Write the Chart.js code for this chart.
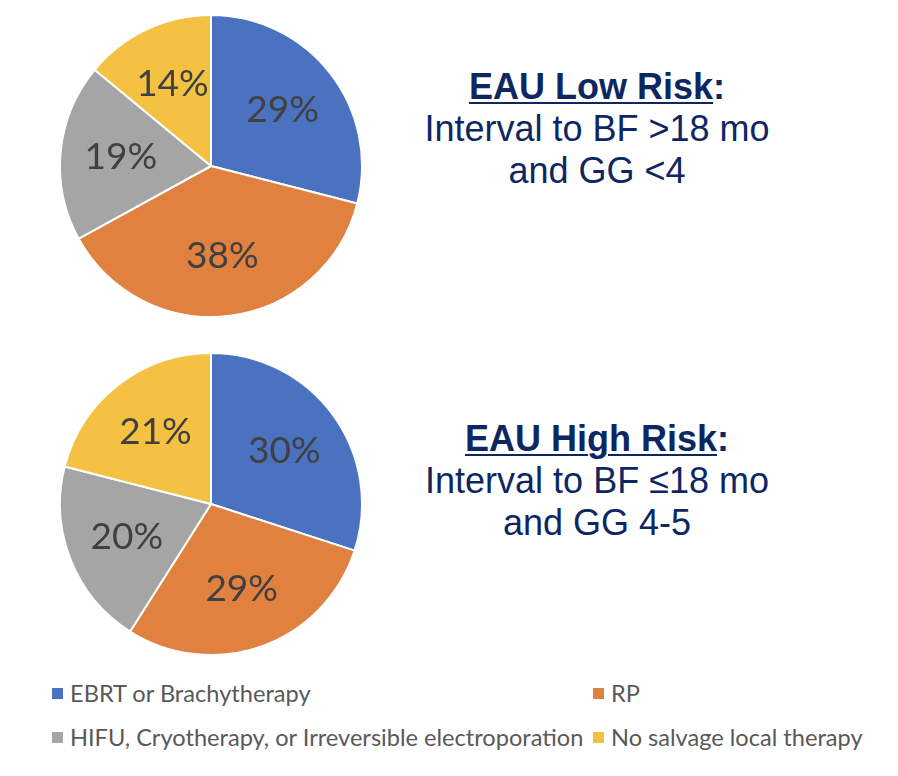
<!DOCTYPE html>
<html>
<head>
<meta charset="utf-8">
<script src="https://cdn.jsdelivr.net/npm/chart.js@4.4.1/dist/chart.umd.min.js"></script>
<style>
    html, body { margin: 0; padding: 0; background: #fff; }
    #page { position: relative; width: 898px; height: 776px; overflow: hidden; }
    .pie { position: absolute; width: 304px; height: 304px; }
    .caption {
        position: absolute; left: 394px; width: 406px; text-align: center;
        font-family: "Liberation Sans", Arial, sans-serif; font-size: 36px;
        line-height: 42px; color: #0d2763;
    }
    .caption b u { text-decoration-thickness: 2px; text-underline-offset: 3px; }
    .legend-item {
        position: absolute; display: flex; align-items: center;
        font-family: Lato, "Open Sans", sans-serif; font-size: 23.6px; color: #595959;
        white-space: nowrap;
    }
    .legend-item span.box { width: 11px; height: 11px; margin-right: 7px; display: inline-block; }
</style>
</head>
<body>
<div id="page">
    <div class="pie" style="left:59px; top:14px;"><canvas id="lowRiskChart"></canvas></div>
    <div class="pie" style="left:59px; top:352px;"><canvas id="highRiskChart"></canvas></div>

    <div class="caption" style="top:66px;">
        <b><u>EAU Low Risk</u>:</b><br>Interval to BF &gt;18 mo<br>and GG &lt;4
    </div>
    <div class="caption" style="top:418px;">
        <b><u>EAU High Risk</u>:</b><br>Interval to BF ≤18 mo<br>and GG 4-5
    </div>
    <div id="legend"></div>
</div>

<script>
// --- DATA ---
const categories = [
    'EBRT or Brachytherapy',
    'RP',
    'HIFU, Cryotherapy, or Irreversible electroporation',
    'No salvage local therapy'
];
const lowRiskValues = [29, 38, 19, 14];
const highRiskValues = [30, 29, 20, 21];
const sliceColors = ['#4a72c1', '#e0813f', '#a5a5a5', '#f4c142'];

// Draws "NN%" inside each slice, a bit outside the middle like Office does
const percentLabels = {
    id: 'percentLabels',
    afterDatasetsDraw(chart) {
        const ctx = chart.ctx;
        const meta = chart.getDatasetMeta(0);
        const values = chart.data.datasets[0].data;
        ctx.save();
        ctx.font = '37px Lato, "Open Sans", sans-serif';
        ctx.fillStyle = '#404040';
        ctx.textAlign = 'center';
        ctx.textBaseline = 'middle';
        meta.data.forEach((arc, i) => {
            const p = arc.getProps(['x', 'y', 'startAngle', 'endAngle', 'outerRadius'], true);
            const mid = (p.startAngle + p.endAngle) / 2;
            const r = p.outerRadius * 0.6;
            ctx.fillText(values[i] + '%', p.x + Math.cos(mid) * r, p.y + Math.sin(mid) * r);
        });
        ctx.restore();
    }
};

function makePie(canvasId, values) {
    const ctx = document.getElementById(canvasId).getContext('2d');
    return new Chart(ctx, {
        type: 'pie',
        data: {
            labels: categories,
            datasets: [{
                data: values,
                backgroundColor: sliceColors,
                borderColor: '#ffffff',
                borderWidth: 2
            }]
        },
        options: {
            responsive: true,
            maintainAspectRatio: false,
            animation: false,
            layout: { padding: 0 },
            plugins: {
                legend: { display: false },
                tooltip: { enabled: false }
            }
        },
        plugins: [percentLabels]
    });
}

makePie('lowRiskChart', lowRiskValues);
makePie('highRiskChart', highRiskValues);

// --- SHARED LEGEND (two columns, two rows) ---
const legendSlots = [
    { left: 52, top: 693 },
    { left: 593, top: 693 },
    { left: 52, top: 737 },
    { left: 593, top: 737 }
];
const legendEl = document.getElementById('legend');
categories.forEach((name, i) => {
    const item = document.createElement('div');
    item.className = 'legend-item';
    item.style.left = legendSlots[i].left + 'px';
    item.style.top = (legendSlots[i].top - 15) + 'px';
    item.style.height = '30px';
    const box = document.createElement('span');
    box.className = 'box';
    box.style.background = sliceColors[i];
    item.appendChild(box);
    item.appendChild(document.createTextNode(name));
    legendEl.appendChild(item);
});
</script>
</body>
</html>
